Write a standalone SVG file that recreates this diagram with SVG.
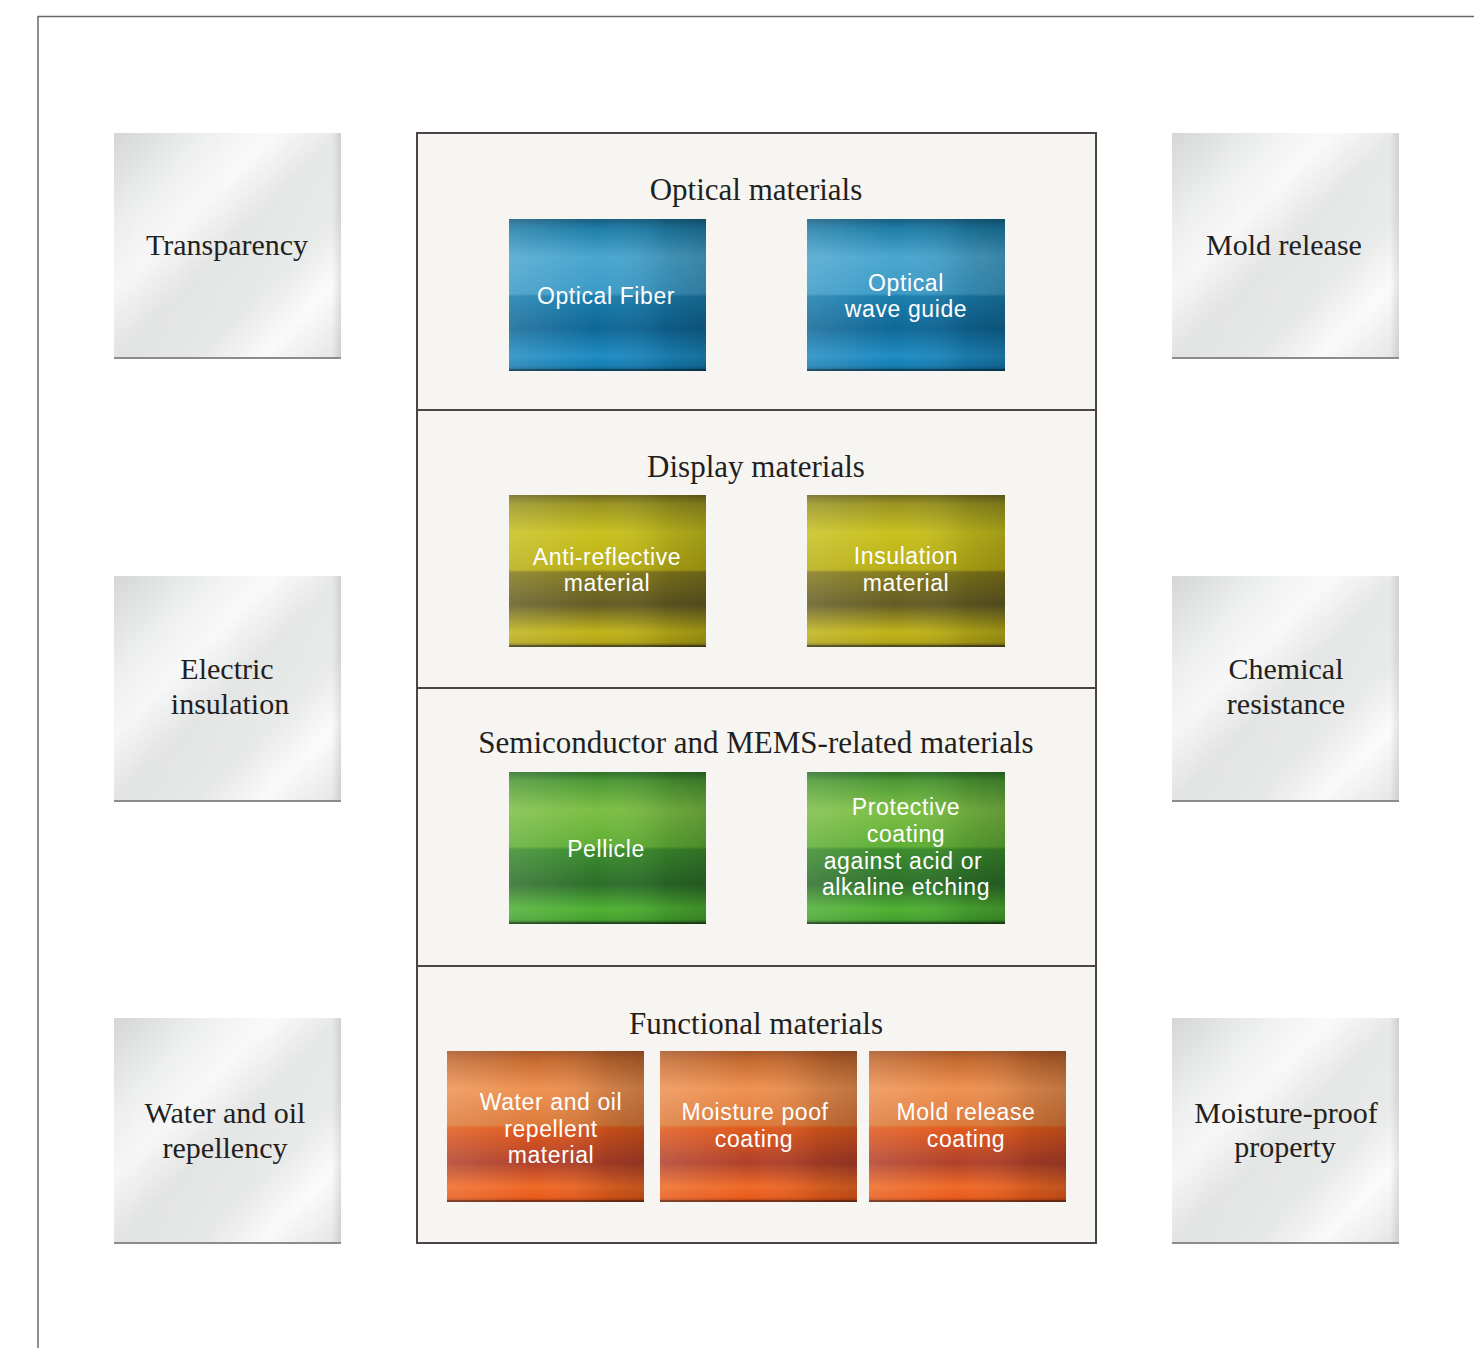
<svg xmlns="http://www.w3.org/2000/svg" width="1474" height="1348" viewBox="0 0 1474 1348">
  <style>
    .frame { fill: none; stroke: #6d6865; stroke-width: 1.5; }
    .panel { fill: #f6f5f2; stroke: #4a4444; stroke-width: 2; }
    .divider { stroke: #4a4444; stroke-width: 2; }
    .prop { font-family: "Liberation Serif", "Times New Roman", serif; font-size: 30px; fill: #231f20; text-anchor: middle; }
    .title { font-family: "Liberation Serif", "Times New Roman", serif; font-size: 31px; fill: #231f20; text-anchor: middle; }
    .tile-text { font-family: "Liberation Sans", Arial, sans-serif; font-size: 23px; letter-spacing: 0.6px; fill: #ffffff; text-anchor: middle; }
    .edge { fill: #8c8c8c; }
    .tile-edge { fill: #000000; fill-opacity: 0.28; }
  </style>
  <defs>
    <!-- brushed silver property plates -->
    <linearGradient id="silver" x1="0" y1="0" x2="1" y2="1">
      <stop offset="0" stop-color="#d9dada"/>
      <stop offset="0.22" stop-color="#f2f3f3"/>
      <stop offset="0.35" stop-color="#fbfbfb"/>
      <stop offset="0.5" stop-color="#e6e7e7"/>
      <stop offset="0.68" stop-color="#e9eaea"/>
      <stop offset="0.82" stop-color="#fbfbfb"/>
      <stop offset="1" stop-color="#e2e3e3"/>
    </linearGradient>
    <linearGradient id="silverSide" x1="0" y1="0" x2="1" y2="0">
      <stop offset="0" stop-color="#000" stop-opacity="0.02"/>
      <stop offset="0.96" stop-color="#000" stop-opacity="0"/>
      <stop offset="1" stop-color="#000" stop-opacity="0.10"/>
    </linearGradient>
    <!-- coloured tiles: horizontal bands with a split at mid-height -->
    <linearGradient id="blue" x1="0" y1="0" x2="0" y2="1">
      <stop offset="0" stop-color="#155d7f"/>
      <stop offset="0.06" stop-color="#1e7ca6"/>
      <stop offset="0.25" stop-color="#4aa6cf"/>
      <stop offset="0.49" stop-color="#3b9ac6"/>
      <stop offset="0.51" stop-color="#1a7dad"/>
      <stop offset="0.72" stop-color="#0f6796"/>
      <stop offset="0.9" stop-color="#1f8cc4"/>
      <stop offset="0.97" stop-color="#137bb0"/>
      <stop offset="1" stop-color="#0e4f73"/>
    </linearGradient>
    <linearGradient id="yellow" x1="0" y1="0" x2="0" y2="1">
      <stop offset="0" stop-color="#6f6a1e"/>
      <stop offset="0.06" stop-color="#9a9420"/>
      <stop offset="0.25" stop-color="#c9c11f"/>
      <stop offset="0.49" stop-color="#b8ae14"/>
      <stop offset="0.51" stop-color="#847a1c"/>
      <stop offset="0.72" stop-color="#635b24"/>
      <stop offset="0.9" stop-color="#c0b319"/>
      <stop offset="0.97" stop-color="#b2a515"/>
      <stop offset="1" stop-color="#5e5820"/>
    </linearGradient>
    <linearGradient id="green" x1="0" y1="0" x2="0" y2="1">
      <stop offset="0" stop-color="#2f6f2a"/>
      <stop offset="0.06" stop-color="#4c9934"/>
      <stop offset="0.25" stop-color="#7dbf45"/>
      <stop offset="0.49" stop-color="#5fae35"/>
      <stop offset="0.51" stop-color="#3b8d2d"/>
      <stop offset="0.74" stop-color="#2c6e2a"/>
      <stop offset="0.9" stop-color="#4fb132"/>
      <stop offset="0.97" stop-color="#44a12d"/>
      <stop offset="1" stop-color="#24591f"/>
    </linearGradient>
    <linearGradient id="orange" x1="0" y1="0" x2="0" y2="1">
      <stop offset="0" stop-color="#a9572a"/>
      <stop offset="0.06" stop-color="#c46a30"/>
      <stop offset="0.25" stop-color="#ee9252"/>
      <stop offset="0.49" stop-color="#dc7a3a"/>
      <stop offset="0.51" stop-color="#e25a1c"/>
      <stop offset="0.74" stop-color="#b0402a"/>
      <stop offset="0.9" stop-color="#ef6a26"/>
      <stop offset="0.97" stop-color="#e85a1a"/>
      <stop offset="1" stop-color="#9c3c1c"/>
    </linearGradient>
    <!-- lighter on the left, darker to the right -->
    <linearGradient id="shade" x1="0" y1="0" x2="1" y2="0">
      <stop offset="0" stop-color="#ffffff" stop-opacity="0.14"/>
      <stop offset="0.45" stop-color="#ffffff" stop-opacity="0"/>
      <stop offset="0.8" stop-color="#000000" stop-opacity="0.12"/>
      <stop offset="1" stop-color="#000000" stop-opacity="0.2"/>
    </linearGradient>
  </defs>

  <!-- page frame -->
  <polyline class="frame" points="38,1348 38,16.5 1474,16.5"/>

  <!-- property plates, left column -->
  <g id="transparency">
    <rect x="114" y="133" width="227" height="226" fill="url(#silver)"/>
    <rect x="114" y="133" width="227" height="226" fill="url(#silverSide)"/>
    <rect class="edge" x="114" y="357" width="227" height="2"/>
    <text class="prop" x="227" y="255">Transparency</text>
  </g>
  <g id="electric-insulation">
    <rect x="114" y="576" width="227" height="226" fill="url(#silver)"/>
    <rect x="114" y="576" width="227" height="226" fill="url(#silverSide)"/>
    <rect class="edge" x="114" y="800" width="227" height="2"/>
    <text class="prop" x="227" y="679">Electric</text>
    <text class="prop" x="230" y="714">insulation</text>
  </g>
  <g id="water-oil-repellency">
    <rect x="114" y="1018" width="227" height="226" fill="url(#silver)"/>
    <rect x="114" y="1018" width="227" height="226" fill="url(#silverSide)"/>
    <rect class="edge" x="114" y="1242" width="227" height="2"/>
    <text class="prop" x="225" y="1123">Water and oil</text>
    <text class="prop" x="225" y="1158">repellency</text>
  </g>

  <!-- property plates, right column -->
  <g id="mold-release">
    <rect x="1172" y="133" width="227" height="226" fill="url(#silver)"/>
    <rect x="1172" y="133" width="227" height="226" fill="url(#silverSide)"/>
    <rect class="edge" x="1172" y="357" width="227" height="2"/>
    <text class="prop" x="1284" y="255">Mold release</text>
  </g>
  <g id="chemical-resistance">
    <rect x="1172" y="576" width="227" height="226" fill="url(#silver)"/>
    <rect x="1172" y="576" width="227" height="226" fill="url(#silverSide)"/>
    <rect class="edge" x="1172" y="800" width="227" height="2"/>
    <text class="prop" x="1286" y="679">Chemical</text>
    <text class="prop" x="1286" y="714">resistance</text>
  </g>
  <g id="moisture-proof-property">
    <rect x="1172" y="1018" width="227" height="226" fill="url(#silver)"/>
    <rect x="1172" y="1018" width="227" height="226" fill="url(#silverSide)"/>
    <rect class="edge" x="1172" y="1242" width="227" height="2"/>
    <text class="prop" x="1286" y="1123">Moisture-proof</text>
    <text class="prop" x="1285" y="1157">property</text>
  </g>

  <!-- central application panel -->
  <g id="panel">
    <rect class="panel" x="417" y="133" width="679" height="1110"/>
    <line class="divider" x1="417" y1="410" x2="1096" y2="410"/>
    <line class="divider" x1="417" y1="688" x2="1096" y2="688"/>
    <line class="divider" x1="417" y1="966" x2="1096" y2="966"/>
  </g>

  <!-- optical materials -->
  <g id="optical-materials">
    <text class="title" x="756" y="200">Optical materials</text>
  </g>
  <g id="optical-fiber">
    <rect x="509" y="219" width="197" height="152" fill="url(#blue)"/>
    <rect x="509" y="219" width="197" height="152" fill="url(#shade)"/>
    <rect class="tile-edge" x="509" y="369" width="197" height="2"/>
    <text class="tile-text" x="606" y="304">Optical Fiber</text>
  </g>
  <g id="optical-wave-guide">
    <rect x="807" y="219" width="198" height="152" fill="url(#blue)"/>
    <rect x="807" y="219" width="198" height="152" fill="url(#shade)"/>
    <rect class="tile-edge" x="807" y="369" width="198" height="2"/>
    <text class="tile-text" x="906" y="291">Optical</text>
    <text class="tile-text" x="906" y="317">wave guide</text>
  </g>

  <!-- display materials -->
  <g id="display-materials">
    <text class="title" x="756" y="477">Display materials</text>
  </g>
  <g id="anti-reflective-material">
    <rect x="509" y="495" width="197" height="152" fill="url(#yellow)"/>
    <rect x="509" y="495" width="197" height="152" fill="url(#shade)"/>
    <rect class="tile-edge" x="509" y="645" width="197" height="2"/>
    <text class="tile-text" x="607" y="565">Anti-reflective</text>
    <text class="tile-text" x="607" y="591">material</text>
  </g>
  <g id="insulation-material">
    <rect x="807" y="495" width="198" height="152" fill="url(#yellow)"/>
    <rect x="807" y="495" width="198" height="152" fill="url(#shade)"/>
    <rect class="tile-edge" x="807" y="645" width="198" height="2"/>
    <text class="tile-text" x="906" y="564">Insulation</text>
    <text class="tile-text" x="906" y="591">material</text>
  </g>

  <!-- semiconductor and MEMS -->
  <g id="semiconductor-mems-materials">
    <text class="title" x="756" y="753">Semiconductor and MEMS-related materials</text>
  </g>
  <g id="pellicle">
    <rect x="509" y="772" width="197" height="152" fill="url(#green)"/>
    <rect x="509" y="772" width="197" height="152" fill="url(#shade)"/>
    <rect class="tile-edge" x="509" y="922" width="197" height="2"/>
    <text class="tile-text" x="606" y="857">Pellicle</text>
  </g>
  <g id="protective-coating">
    <rect x="807" y="772" width="198" height="152" fill="url(#green)"/>
    <rect x="807" y="772" width="198" height="152" fill="url(#shade)"/>
    <rect class="tile-edge" x="807" y="922" width="198" height="2"/>
    <text class="tile-text" x="906" y="815">Protective</text>
    <text class="tile-text" x="906" y="842">coating</text>
    <text class="tile-text" x="903" y="869">against acid or</text>
    <text class="tile-text" x="906" y="895">alkaline etching</text>
  </g>

  <!-- functional materials -->
  <g id="functional-materials">
    <text class="title" x="756" y="1034">Functional materials</text>
  </g>
  <g id="water-oil-repellent-material">
    <rect x="447" y="1051" width="197" height="151" fill="url(#orange)"/>
    <rect x="447" y="1051" width="197" height="151" fill="url(#shade)"/>
    <rect class="tile-edge" x="447" y="1200" width="197" height="2"/>
    <text class="tile-text" x="551" y="1110">Water and oil</text>
    <text class="tile-text" x="551" y="1137">repellent</text>
    <text class="tile-text" x="551" y="1163">material</text>
  </g>
  <g id="moisture-poof-coating">
    <rect x="660" y="1051" width="197" height="151" fill="url(#orange)"/>
    <rect x="660" y="1051" width="197" height="151" fill="url(#shade)"/>
    <rect class="tile-edge" x="660" y="1200" width="197" height="2"/>
    <text class="tile-text" x="755" y="1120">Moisture poof</text>
    <text class="tile-text" x="754" y="1147">coating</text>
  </g>
  <g id="mold-release-coating">
    <rect x="869" y="1051" width="197" height="151" fill="url(#orange)"/>
    <rect x="869" y="1051" width="197" height="151" fill="url(#shade)"/>
    <rect class="tile-edge" x="869" y="1200" width="197" height="2"/>
    <text class="tile-text" x="966" y="1120">Mold release</text>
    <text class="tile-text" x="966" y="1147">coating</text>
  </g>

  <!-- connectors: none drawn -->
  <g id="connectors"/>
</svg>
